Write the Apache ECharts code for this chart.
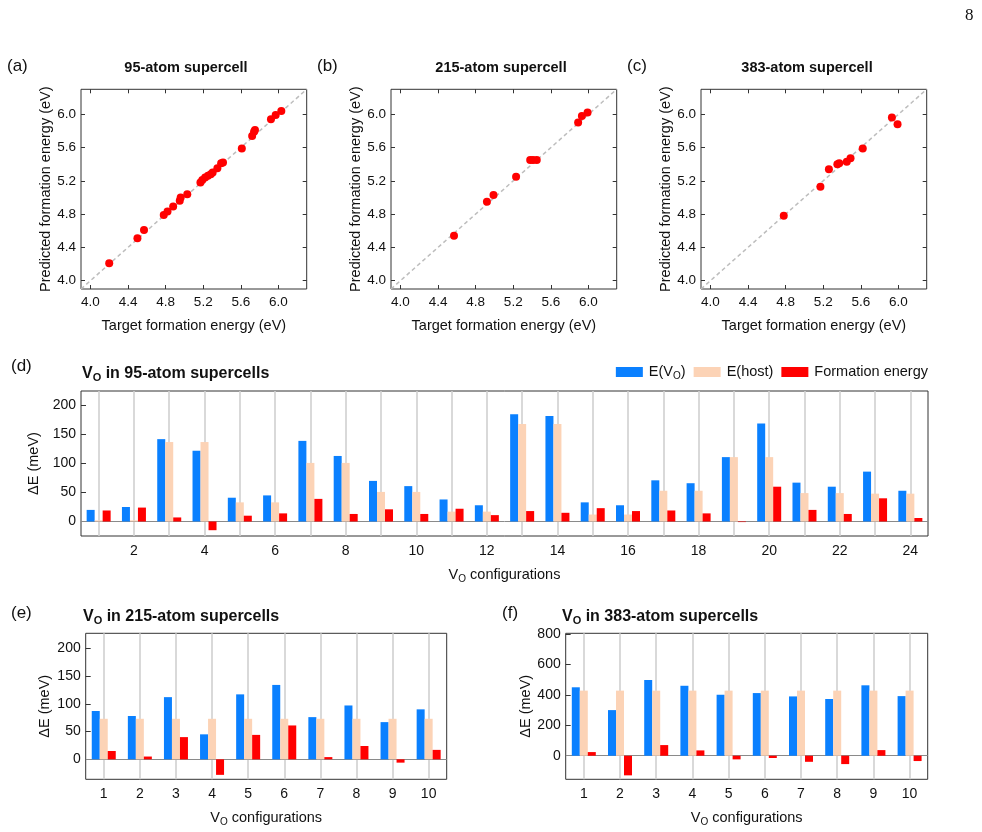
<!DOCTYPE html>
<html lang="en">
<head>
<meta charset="utf-8">
<script src="https://cdn.jsdelivr.net/npm/echarts@6/dist/echarts.min.js"></script>
<style>
    html, body { margin: 0; padding: 0; background: #fff; }
    #chart { width: 982px; height: 832px; }
</style>
</head>
<body>
<div id="chart"></div>
<script type="text/javascript">
    // (a)-(c) target vs predicted formation energy (eV)
    var targetA = [4.20, 4.50, 4.57, 4.78, 4.82, 4.88, 4.95, 4.96, 5.03, 5.17, 5.19, 5.22, 5.25, 5.28, 5.30, 5.35, 5.39, 5.41, 5.61, 5.72, 5.74, 5.75, 5.92, 5.97, 6.03];
    var predA   = [4.21, 4.51, 4.61, 4.79, 4.83, 4.89, 4.96, 5.00, 5.04, 5.18, 5.21, 5.24, 5.26, 5.28, 5.30, 5.35, 5.41, 5.42, 5.59, 5.74, 5.79, 5.81, 5.94, 5.99, 6.04];
    var targetB = [4.57, 4.92, 4.99, 5.23, 5.38, 5.41, 5.45, 5.89, 5.93, 5.99];
    var predB   = [4.54, 4.95, 5.03, 5.25, 5.45, 5.45, 5.45, 5.90, 5.98, 6.02];
    var targetC = [4.78, 5.17, 5.26, 5.35, 5.37, 5.45, 5.49, 5.62, 5.93, 5.99];
    var predC   = [4.78, 5.13, 5.34, 5.40, 5.41, 5.43, 5.47, 5.59, 5.96, 5.88];
    var parityRange = [3.9, 6.3];
    var parityTicks = [4.0, 4.4, 4.8, 5.2, 5.6, 6.0];

    // (d) 95-atom supercells, meV
    var cfg95  = ['1', '2', '3', '4', '5', '6', '7', '8', '9', '10', '11', '12', '13', '14', '15', '16', '17', '18', '19', '20', '21', '22', '23', '24'];
    var evo95  = [20, 25, 142, 122, 41, 45, 139, 113, 70, 61, 38, 28, 185, 182, 33, 28, 71, 66, 111, 169, 67, 60, 86, 53];
    var host95 = [2, 2, 137, 137, 33, 33, 101, 101, 51, 51, 17, 17, 168, 168, 12, 12, 53, 53, 111, 111, 49, 49, 48, 48];
    var form95 = [19, 24, 7, -15, 10, 14, 39, 13, 21, 13, 22, 11, 18, 15, 23, 18, 19, 14, -1, 60, 20, 13, 40, 6];

    // (e) 215-atom and (f) 383-atom supercells, meV
    var cfg10   = ['1', '2', '3', '4', '5', '6', '7', '8', '9', '10'];
    var evo215  = [87, 78, 112, 45, 117, 134, 76, 97, 67, 90];
    var host215 = [73, 73, 73, 73, 73, 73, 73, 73, 73, 73];
    var form215 = [15, 5, 40, -28, 44, 61, 4, 24, -6, 17];
    var evo383  = [450, 300, 498, 460, 401, 412, 390, 373, 463, 392];
    var host383 = [428, 428, 428, 428, 428, 428, 428, 428, 428, 428];
    var form383 = [24, -129, 70, 35, -24, -15, -40, -55, 37, -35];
    var meVTicks = [0, 50, 100, 150, 200];
    var meVTicks383 = [0, 200, 400, 600, 800];

    var FONT = 'Liberation Sans';
    var INK = '#111';
    var FRAME = '#333';
    var BLUE = '#0a80ff', PEACH = '#fcd3b6', RED = '#ff0000';

    var grids = [], xAxes = [], yAxes = [], series = [], titles = [];

    var subRich = {
        v: {fontSize: 14.5, fontFamily: FONT, color: INK, lineHeight: 18},
        s: {fontSize: 10, fontFamily: FONT, color: INK, lineHeight: 9, verticalAlign: 'bottom'}
    };

    function zip(xs, ys) {
        return xs.map(function (x, i) { return [x, ys[i]]; });
    }

    function parityPanel(left, heading, xs, ys) {
        var gi = grids.length;
        grids.push({left: left, top: 89.3, width: 225.7, height: 199.7, show: true,
            borderColor: FRAME, borderWidth: 1, backgroundColor: 'transparent'});
        var tickStyle = {show: true, inside: true, length: 4, customValues: parityTicks, lineStyle: {color: FRAME}};
        var xi = xAxes.length, yi = yAxes.length;
        xAxes.push({
            gridIndex: gi, type: 'value', position: 'bottom', min: parityRange[0], max: parityRange[1],
            axisLine: {show: false}, splitLine: {show: false}, axisTick: tickStyle,
            axisLabel: {customValues: parityTicks, formatter: function (v) { return v.toFixed(1); },
                fontSize: 13.5, fontFamily: FONT, color: INK, margin: 6},
            name: 'Target formation energy (eV)', nameLocation: 'middle', nameGap: 29,
            nameTextStyle: {fontSize: 14.5, fontFamily: FONT, color: INK}
        });
        xAxes.push({
            gridIndex: gi, type: 'value', position: 'top', min: parityRange[0], max: parityRange[1],
            axisLine: {show: false}, splitLine: {show: false}, axisTick: tickStyle, axisLabel: {show: false}
        });
        yAxes.push({
            gridIndex: gi, type: 'value', position: 'left', min: parityRange[0], max: parityRange[1],
            axisLine: {show: false}, splitLine: {show: false}, axisTick: tickStyle,
            axisLabel: {customValues: parityTicks, formatter: function (v) { return v.toFixed(1); },
                fontSize: 13.5, fontFamily: FONT, color: INK, margin: 5},
            name: 'Predicted formation energy (eV)', nameLocation: 'middle', nameGap: 26,
            nameTextStyle: {fontSize: 14.5, fontFamily: FONT, color: INK}
        });
        yAxes.push({
            gridIndex: gi, type: 'value', position: 'right', min: parityRange[0], max: parityRange[1],
            axisLine: {show: false}, splitLine: {show: false}, axisTick: tickStyle, axisLabel: {show: false}
        });
        series.push({
            type: 'line', xAxisIndex: xi, yAxisIndex: yi, silent: true, symbol: 'none', z: 1,
            data: parityRange.map(function (v) { return [v, v]; }),
            lineStyle: {color: '#bdbdbd', width: 1.5, type: [4, 3]}
        });
        series.push({
            type: 'scatter', xAxisIndex: xi, yAxisIndex: yi, symbolSize: 8, z: 3,
            itemStyle: {color: RED, opacity: 1}, data: zip(xs, ys)
        });
        titles.push({text: heading.label, left: left - 74, top: 56, padding: 0,
            textStyle: {fontSize: 17, fontWeight: 'normal', fontFamily: FONT, color: INK, lineHeight: 20}});
        titles.push({text: heading.title, left: heading.cx, top: 59, padding: 0, textAlign: 'center',
            textStyle: {fontSize: 14.5, fontWeight: 'bold', fontFamily: FONT, color: INK, lineHeight: 18}});
    }

    function barPanel(pos, cats, evo, host, form, yMin, yMax, yTicks, everyOther, yNameGap) {
        var gi = grids.length;
        grids.push({left: pos.left, top: pos.top, width: pos.width, height: pos.height, show: true,
            borderColor: FRAME, borderWidth: 1, backgroundColor: 'transparent'});
        var xi = xAxes.length, yi = yAxes.length;
        xAxes.push({
            gridIndex: gi, type: 'category', data: cats, boundaryGap: true,
            axisLine: {show: false, onZero: false}, axisTick: {show: false}, splitLine: {show: false},
            axisLabel: {interval: everyOther ? function (idx) { return idx % 2 === 1; } : 0,
                fontSize: 14, fontFamily: FONT, color: INK, margin: 8},
            name: '{v|V}{s|O}{v| configurations}', nameLocation: 'middle', nameGap: 30,
            nameTextStyle: {rich: subRich}
        });
        yAxes.push({
            gridIndex: gi, type: 'value', min: yMin, max: yMax,
            axisLine: {show: false}, splitLine: {show: false},
            axisTick: {show: true, inside: true, length: 5, customValues: yTicks, lineStyle: {color: FRAME}},
            axisLabel: {customValues: yTicks, fontSize: 14, fontFamily: FONT, color: INK, margin: 5},
            name: 'ΔE (meV)', nameLocation: 'middle', nameGap: yNameGap,
            nameTextStyle: {fontSize: 14.5, fontFamily: FONT, color: INK}
        });
        var guides = cats.map(function (c) {
            return {xAxis: c, lineStyle: {color: '#d0d0d0', width: 1.6, type: 'solid'}};
        });
        guides.push({yAxis: 0, lineStyle: {color: '#8a8a8a', width: 1, type: 'solid'}});
        var common = {type: 'bar', xAxisIndex: xi, yAxisIndex: yi, barWidth: 8, barGap: '0%', z: 2};
        series.push(Object.assign({name: 'E(VO)', data: evo, itemStyle: {color: BLUE}}, common));
        series.push(Object.assign({name: 'E(host)', data: host, itemStyle: {color: PEACH},
            markLine: {silent: true, z: 1, symbol: ['none', 'none'], label: {show: false},
                animation: false, data: guides}}, common));
        series.push(Object.assign({name: 'Formation energy', data: form, itemStyle: {color: RED}}, common));
    }

    var titleRich = {
        b: {fontSize: 16, fontWeight: 'bold', fontFamily: FONT, color: INK, lineHeight: 18},
        s: {fontSize: 11, fontWeight: 'bold', fontFamily: FONT, color: INK, lineHeight: 10, verticalAlign: 'bottom'}
    };

    function panelTitle(label, lx, ly, text, tx, ty) {
        titles.push({text: label, left: lx, top: ly, padding: 0,
            textStyle: {fontSize: 17, fontWeight: 'normal', fontFamily: FONT, color: INK, lineHeight: 20}});
        titles.push({text: text, left: tx, top: ty, padding: 0, textStyle: {rich: titleRich}});
    }

    parityPanel(81, {label: '(a)', title: '95-atom supercell', cx: 186}, targetA, predA);
    parityPanel(391, {label: '(b)', title: '215-atom supercell', cx: 501}, targetB, predB);
    parityPanel(701, {label: '(c)', title: '383-atom supercell', cx: 807}, targetC, predC);

    barPanel({left: 81, top: 391, width: 847, height: 145}, cfg95, evo95, host95, form95, -25, 225, meVTicks, true, 31);
    barPanel({left: 85.7, top: 633.3, width: 361, height: 146}, cfg10, evo215, host215, form215, -36, 227, meVTicks, false, 33);
    barPanel({left: 565.7, top: 633.3, width: 362, height: 146}, cfg10, evo383, host383, form383, -155, 805, meVTicks383, false, 24);

    panelTitle('(d)', 11, 356, '{b|V}{s|O}{b| in 95-atom supercells}', 82, 365);
    panelTitle('(e)', 11, 603, '{b|V}{s|O}{b| in 215-atom supercells}', 83, 608);
    panelTitle('(f)', 502, 603, '{b|V}{s|O}{b| in 383-atom supercells}', 562, 608);

    titles.push({text: '8', left: 965, top: 7, padding: 0,
        textStyle: {fontSize: 17, fontWeight: 'normal', fontFamily: 'Liberation Serif', color: INK}});

    var chart = echarts.init(document.getElementById('chart'));
    chart.setOption({
        animation: false,
        backgroundColor: '#fff',
        textStyle: {fontFamily: FONT},
        title: titles,
        legend: {
            data: ['E(VO)', 'E(host)', 'Formation energy'],
            top: 363, right: 54, padding: 0, icon: 'rect', itemWidth: 27, itemHeight: 10, itemGap: 8,
            selectedMode: false,
            formatter: function (name) { return name === 'E(VO)' ? 'E(V{s|O})' : name; },
            textStyle: {fontSize: 14.5, fontFamily: FONT, color: INK, lineHeight: 18, padding: [0, 0, 0, 1],
                rich: {s: {fontSize: 10, fontFamily: FONT, color: INK, lineHeight: 9, verticalAlign: 'bottom'}}}
        },
        grid: grids,
        xAxis: xAxes,
        yAxis: yAxes,
        series: series
    });
</script>
</body>
</html>
